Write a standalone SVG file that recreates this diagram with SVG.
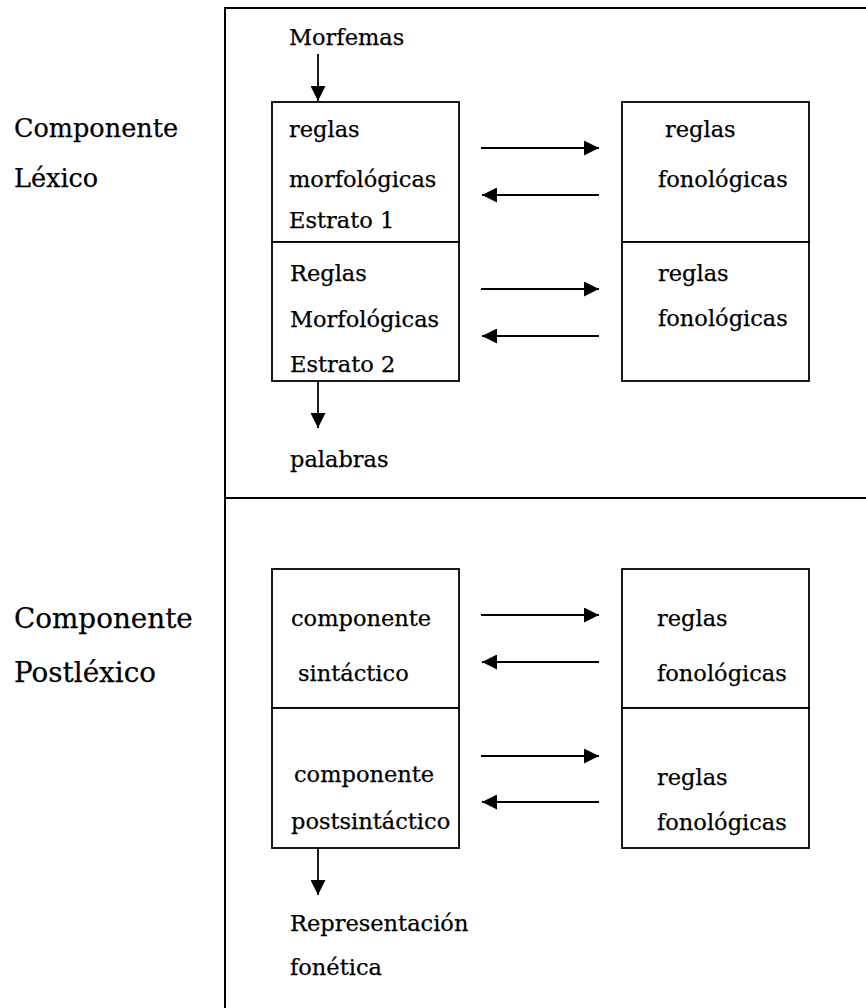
<svg xmlns="http://www.w3.org/2000/svg" width="866" height="1008" viewBox="0 0 866 1008">
  <style>
    text { font-family: "DejaVu Serif", "Liberation Serif", serif; fill: #000; stroke: #000; stroke-width: 0.25; }
    .t { font-size: 22.5px; }
    .side { font-size: 25.5px; }
    .side2 { font-size: 27.8px; }
    .frame { stroke: #000; stroke-width: 2; fill: none; }
    .box { stroke: #000; stroke-width: 1.8; fill: #fff; }
    .conn { stroke: #000; stroke-width: 1.8; fill: none; marker-end: url(#head); }
  </style>
  <defs>
    <marker id="head" markerUnits="userSpaceOnUse" markerWidth="15" markerHeight="15" refX="15" refY="7.5" orient="auto">
      <path d="M0,0 L15,7.5 L0,15 Z" fill="#000"/>
    </marker>
  </defs>
  <rect width="866" height="1008" fill="#fff"/>

  <!-- outer frame and section divider -->
  <g id="frame">
    <path class="frame" d="M225,1008 V8 H866"/>
    <path class="frame" d="M225,498 H866"/>
  </g>

  <!-- side labels -->
  <g id="label-lexico">
    <text class="side" x="14" y="137">Componente</text>
    <text class="side" x="14" y="187">Léxico</text>
  </g>
  <g id="label-postlexico">
    <text class="side2" x="14" y="628">Componente</text>
    <text class="side2" x="14" y="682">Postléxico</text>
  </g>

  <!-- lexical component -->
  <g id="morfemas">
    <text class="t" x="289" y="45">Morfemas</text>
  </g>
  <g id="estrato1">
    <rect class="box" x="272" y="102" width="187" height="140"/>
    <text class="t" x="289" y="137">reglas</text>
    <text class="t" x="289" y="187">morfológicas</text>
    <text class="t" x="289" y="228">Estrato 1</text>
  </g>
  <g id="estrato2">
    <rect class="box" x="272" y="242" width="187" height="139"/>
    <text class="t" x="290" y="281">Reglas</text>
    <text class="t" x="290" y="327">Morfológicas</text>
    <text class="t" x="290" y="372">Estrato 2</text>
  </g>
  <g id="fono1">
    <rect class="box" x="622" y="102" width="187" height="140"/>
    <text class="t" x="665" y="137">reglas</text>
    <text class="t" x="658" y="187">fonológicas</text>
  </g>
  <g id="fono2">
    <rect class="box" x="622" y="242" width="187" height="139"/>
    <text class="t" x="658" y="281">reglas</text>
    <text class="t" x="658" y="326">fonológicas</text>
  </g>
  <g id="palabras">
    <text class="t" x="290" y="467">palabras</text>
  </g>

  <!-- postlexical component -->
  <g id="sintactico">
    <rect class="box" x="272" y="569" width="187" height="139"/>
    <text class="t" x="291" y="626">componente</text>
    <text class="t" x="298" y="681">sintáctico</text>
  </g>
  <g id="postsintactico">
    <rect class="box" x="272" y="708" width="187" height="140"/>
    <text class="t" x="294" y="782">componente</text>
    <text class="t" x="291" y="829">postsintáctico</text>
  </g>
  <g id="fono3">
    <rect class="box" x="622" y="569" width="187" height="139"/>
    <text class="t" x="657" y="626">reglas</text>
    <text class="t" x="657" y="681">fonológicas</text>
  </g>
  <g id="fono4">
    <rect class="box" x="622" y="708" width="187" height="140"/>
    <text class="t" x="657" y="785">reglas</text>
    <text class="t" x="657" y="830">fonológicas</text>
  </g>
  <g id="representacion">
    <text class="t" x="290" y="931">Representación</text>
    <text class="t" x="290" y="975">fonética</text>
  </g>

  <!-- connectors -->
  <g id="connectors">
    <line class="conn" x1="318" y1="54" x2="318" y2="101"/>
    <line class="conn" x1="481" y1="148" x2="599" y2="148"/>
    <line class="conn" x1="599" y1="195" x2="482" y2="195"/>
    <line class="conn" x1="481" y1="289" x2="599" y2="289"/>
    <line class="conn" x1="599" y1="336" x2="482" y2="336"/>
    <line class="conn" x1="318" y1="381" x2="318" y2="428"/>

    <line class="conn" x1="481" y1="615" x2="599" y2="615"/>
    <line class="conn" x1="599" y1="662" x2="482" y2="662"/>
    <line class="conn" x1="481" y1="756" x2="599" y2="756"/>
    <line class="conn" x1="599" y1="802" x2="482" y2="802"/>
    <line class="conn" x1="318" y1="848" x2="318" y2="895"/>
  </g>
</svg>
